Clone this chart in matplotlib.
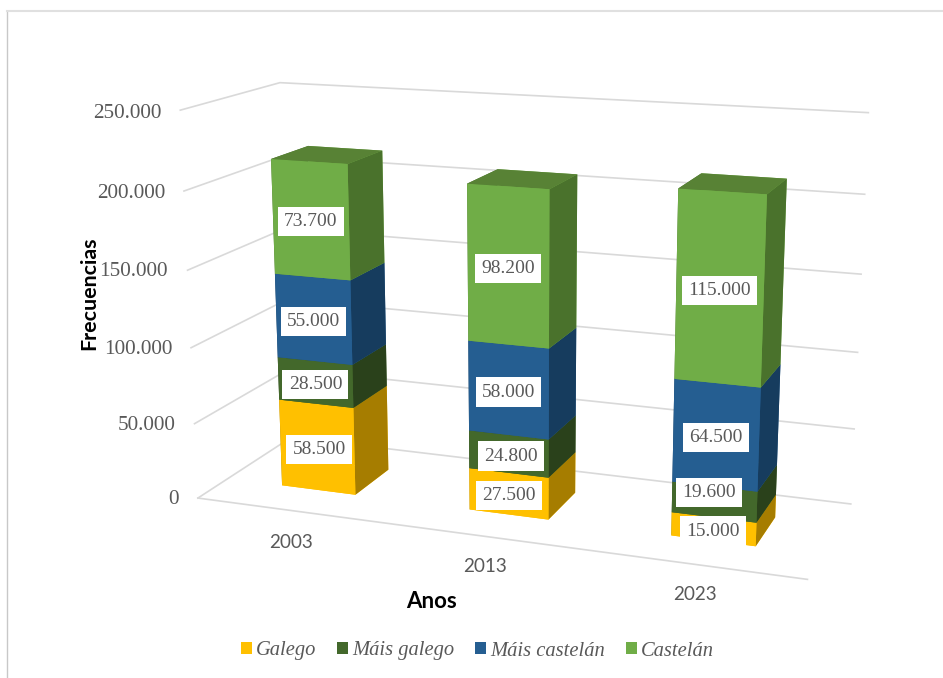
import numpy as np
import matplotlib
matplotlib.use('Agg')
from matplotlib import pyplot as plt
from matplotlib.patches import Patch
from mpl_toolkits.mplot3d import proj3d

years = ['2003', '2013', '2023']
series = ['Galego', 'Máis galego', 'Máis castelán', 'Castelán']
galego = [58500, 27500, 15000]
mais_galego = [28500, 24800, 19600]
mais_castelan = [55000, 58000, 64500]
castelan = [73700, 98200, 115000]
z_ticks = [0, 50000, 100000, 150000, 200000, 250000]
z_tick_labels = ['0', '50.000', '100.000', '150.000', '200.000', '250.000']

W, H = 943, 678
GRID = '#D9D9D9'
TEXT = '#595959'

# bar footprint in category units, depth is 0..1
bar_x0 = [0.3009, 1.3010, 2.3006]
bar_x1 = [0.7004, 1.7004, 2.6980]
bar_y0, bar_y1 = 0.3038, 0.6976

# front, side, top
colors = [('#FFC000', '#A67D00', '#BF9000'),
          ('#43682B', '#2A411B', '#385723'),
          ('#255E91', '#163C5E', '#1F4E79'),
          ('#70AD47', '#4A722C', '#588235')]

# labels that do not sit at the middle of their segment: (bar, series) -> (dx, dz)
label_nudge = {(2, 1): (-0.025, 7000), (1, 1): (0.012, 0), (0, 0): (0.01, 0)}

fig = plt.figure(figsize=(W / 100, H / 100), dpi=100)
ax = fig.add_subplot(projection='3d', computed_zorder=False)
ax.set_xlim(0, 3)
ax.set_ylim(0, 1)
ax.set_zlim(0, 250000)
ax.set_axis_off()
ax.patch.set_alpha(0)

# camera
ax.view_init(14.4778, -69.9164, 0.0292)
ax.set_proj_type('persp', focal_length=0.4673)
ax.set_box_aspect((1.5807, 0.5290, 1))
S, cx, cy = 758.7952, 512.5144, 321.5617
ax.set_position([(cx - S / 2) / W, 1 - (cy + S / 2) / H, S / W, S / H])
ax.apply_aspect()
M = ax.get_proj()

# walls and floor
for z in z_ticks:
    ax.plot([0, 0, 3], [0, 1, 1], [z, z, z], color=GRID, lw=1.2, zorder=1)
ax.plot([0, 3], [0, 0], [0, 0], color=GRID, lw=1.2, zorder=1)

values = [galego, mais_galego, mais_castelan, castelan]
for b in range(len(years)):
    base = 0
    for s in range(len(series)):
        v = values[s][b]
        front, side, top = colors[s]
        # bar3d face order: bottom, top, front, back, left, right
        ax.bar3d(bar_x0[b], bar_y0, base, bar_x1[b] - bar_x0[b], bar_y1 - bar_y0, v,
                 color=[front, top, front, front, side, side],
                 shade=False, linewidth=0, zorder=3 + s)
        dx, dz = label_nudge.get((b, s), (0, 0))
        # value label on the front face, projected once so it stays flat text
        tx, ty, _ = proj3d.proj_transform((bar_x0[b] + bar_x1[b]) / 2 + dx, bar_y0,
                                          base + v / 2 - 1300 + dz, M)
        ax.text2D(tx, ty, '{:,}'.format(v).replace(',', '.'), transform=ax.transData,
                  ha='center', va='center', color=TEXT, family='Liberation Serif', fontsize=14,
                  bbox=dict(facecolor='white', edgecolor='none', boxstyle='square,pad=0.32'),
                  zorder=10)
        base += v

def px_text(x, y, s, **kw):
    fig.text(x / W, 1 - y / H, s, **kw)

tick_r = [179, 176, 172, 168, 165, 161]
tick_y = [500, 426, 349, 272, 193, 113]
for x, y, s in zip(tick_r, tick_y, z_tick_labels):
    px_text(x, y, s, ha='right', va='center', color=TEXT, family='Liberation Serif', fontsize=15.2)
for x, y, s in zip([291, 485, 695], [542, 567, 595], years):
    px_text(x, y, s, ha='center', va='center', color=TEXT, family='Lato', fontsize=13.6)
px_text(431, 601, 'Anos', ha='center', va='center', color='black', family='Lato', weight='bold', fontsize=16)
px_text(89, 293, 'Frecuencias', ha='center', va='center', rotation=90, color='black', family='Lato',
        weight='bold', fontsize=15.4)

handles = [Patch(facecolor=c[0], label=n) for c, n in zip(colors, series)]
fig.legend(handles=handles, loc='center', bbox_to_anchor=(477.5 / W, 1 - 651 / H), ncol=4, frameon=False,
           prop=dict(family='Liberation Serif', style='italic', size=14.8), labelcolor=TEXT,
           handlelength=0.55, handleheight=0.55, handletextpad=0.2, columnspacing=1.0)

# chart area border, only top and left are in frame
fig.add_artist(plt.Line2D([6.5 / W, 6.5 / W], [0, 1 - 11 / H], color='#C8C8C8', lw=1))
fig.add_artist(plt.Line2D([6.5 / W, 1], [1 - 11 / H, 1 - 11 / H], color='#E0E0E0', lw=1.5))

fig.savefig('out.png', dpi=100)
